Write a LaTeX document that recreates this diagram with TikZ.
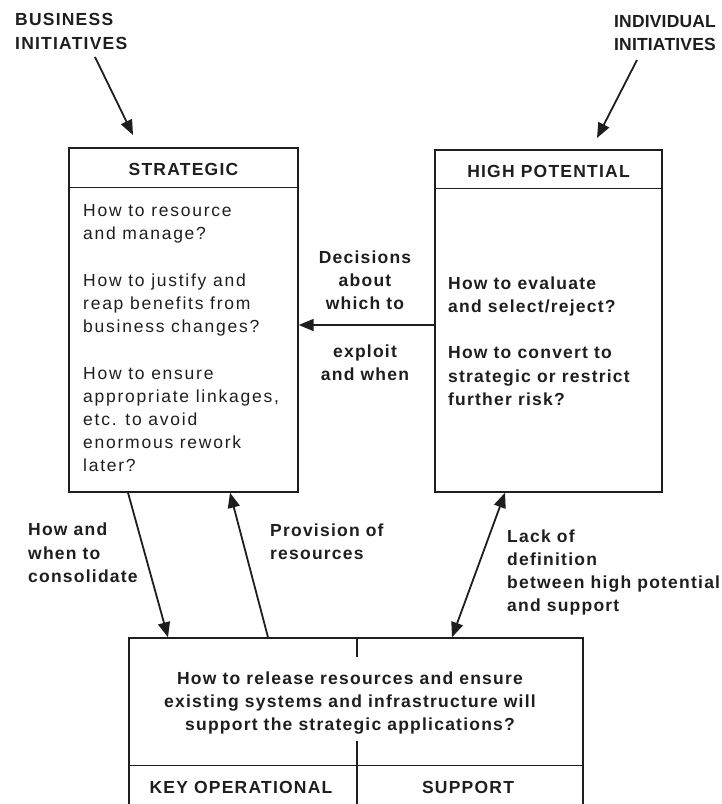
\documentclass[tikz,border=0pt]{standalone}
\usepackage{fontspec}
\setmainfont{Liberation Sans}
\newfontfamily\regfont[LetterSpace=10]{Liberation Sans}
\newfontfamily\boldfont[LetterSpace=7]{Liberation Sans}
\newfontfamily\tightfont[LetterSpace=1]{Liberation Sans}
\usetikzlibrary{arrows.meta}
\definecolor{ink}{HTML}{1E1E1E}
\tikzset{
  box/.style={draw=ink, line width=1.4pt, inner sep=0pt},
  sep/.style={draw=ink, line width=1.4pt},
  conn/.style={draw=ink, line width=1.8pt, -{Triangle[length=15pt,width=12pt]}},
  biconn/.style={draw=ink, line width=1.8pt, {Triangle[length=15pt,width=12pt]}-{Triangle[length=15pt,width=12pt]}},
  body/.style={inner sep=0pt, anchor=north west, align=left, text=ink,
    font=\regfont\fontsize{17.5}{23.2}\selectfont},
  lab/.style={inner sep=0pt, text=ink,
    font=\boldfont\bfseries\fontsize{17.5}{23.2}\selectfont},
}
\begin{document}
\begin{tikzpicture}[x=1pt,y=-1pt]
\useasboundingbox (0,0) rectangle (721,804);
\clip (0,0) rectangle (721,804);

% initiatives
\node[lab, anchor=north west, align=left] (bi) at (15,13.5) {BUSINESS\\INITIATIVES};
\node[lab, anchor=north west, align=left, font=\tightfont\bfseries\fontsize{17.5}{23.2}\selectfont] (ii) at (614,15.5) {INDIVIDUAL\\INITIATIVES};
\coordinate (bis) at (95,57);
\coordinate (bie) at (133,135);
\coordinate (iis) at (637,60);
\coordinate (iie) at (597,138);
\draw[conn] (bis) -- (bie);
\draw[conn] (iis) -- (iie);

% strategic box
\node[box, minimum width=229pt, minimum height=344pt] (strat) at (183.5,320) {};
\draw[sep] ([yshift=-40pt]strat.north west) -- ([yshift=-40pt]strat.north east);
\node[lab, anchor=base] (sth) at (183.5,175) {STRATEGIC};
\node[body] (stt) at (83,204.5) {How to resource\\and manage?\\[23.2pt]How to justify and\\reap benefits from\\business changes?\\[23.2pt]How to ensure\\appropriate linkages,\\etc. to avoid\\enormous rework\\later?};

% high potential box
\node[box, minimum width=227pt, minimum height=342pt] (hp) at (548.5,321) {};
\draw[sep] ([yshift=-39pt]hp.north west) -- ([yshift=-39pt]hp.north east);
\node[lab, anchor=base] (hph) at (548.5,177) {HIGH POTENTIAL};
\node[body, font=\boldfont\bfseries\fontsize{17.5}{23.2}\selectfont] (hpt) at (448,276.5) {How to evaluate\\and select/reject?\\[23.2pt]How to convert to\\strategic or restrict\\further risk?};

% decisions arrow
\draw[conn] ([yshift=-4pt]hp.west) coordinate (d1) -- (strat.east |- d1);
\node[lab, anchor=north, align=center] (dec1) at (365,250.5) {Decisions\\about\\which to};
\node[lab, anchor=north, align=center] (dec2) at (365,344.5) {exploit\\and when};

% bottom box
\node[box, minimum width=454pt, minimum height=192pt] (bot) at (356,734) {};
\draw[sep] ([yshift=-128pt]bot.north west) -- ([yshift=-128pt]bot.north east);
\draw[sep] ([xshift=1pt]bot.north) -- ([xshift=1pt,yshift=-20pt]bot.north);
\draw[sep] ([xshift=1pt,yshift=-104pt]bot.north) -- ([xshift=1pt]bot.south);
\node[lab, anchor=north, align=center] (bt) at (350,671.5) {How to release resources and ensure\\existing systems and infrastructure will\\support the strategic applications?};
\node[lab, anchor=base] (ko) at (241,793) {KEY OPERATIONAL};
\node[lab, anchor=base] (su) at (468,793) {SUPPORT};

% connectors between boxes
\draw[conn] ([xshift=-55.5pt]strat.south) -- ([xshift=-188pt]bot.north);
\draw[conn] ([xshift=-88pt]bot.north) -- ([xshift=46.5pt]strat.south);
\draw[biconn] ([xshift=-43.5pt]hp.south) -- ([xshift=96pt]bot.north);

% labels
\node[lab, anchor=north west, align=left] (cons) at (28,523) {How and\\when to\\consolidate};
\node[lab, anchor=north west, align=left] (prov) at (270,523.5) {Provision of\\resources};
\node[lab, anchor=north west, align=left] (lack) at (507,529.5) {Lack of\\definition\\between high potential\\and support};
\end{tikzpicture}
\end{document}
